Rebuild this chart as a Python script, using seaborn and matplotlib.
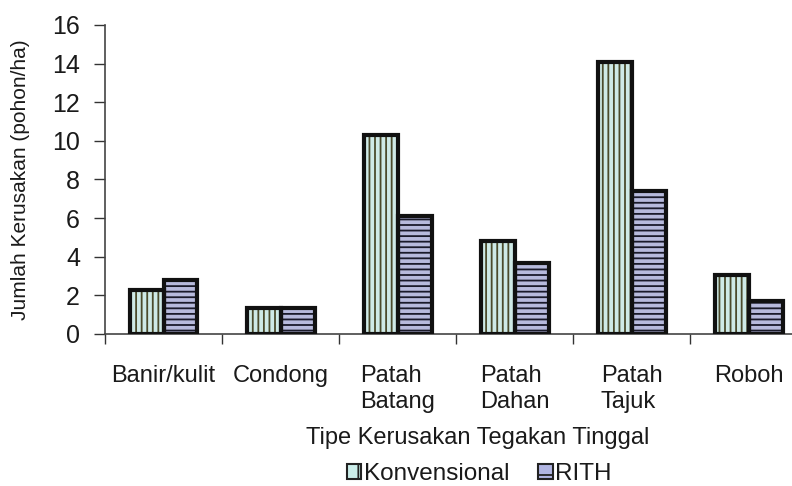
import matplotlib
matplotlib.use("Agg")
import matplotlib.pyplot as plt
from matplotlib.patches import Rectangle, Patch
from matplotlib.ticker import FixedLocator
import seaborn as sns
import pandas as pd

# Damage counts per damage type for the two logging systems
categories = ["Banir/kulit", "Condong", "Patah\nBatang", "Patah\nDahan", "Patah\nTajuk", "Roboh"]
konvensional = [2.3, 1.35, 10.3, 4.8, 14.1, 3.05]
rith = [2.8, 1.35, 6.1, 3.7, 7.4, 1.7]
series = ["Konvensional", "RITH"]
y_ticks = [0, 2, 4, 6, 8, 10, 12, 14, 16]

fill_colors = {"Konvensional": "#cbeeea", "RITH": "#b1b5e2"}
hatch_colors = {"Konvensional": "#4b4b2c", "RITH": "#1a1a2a"}
hatches = {"Konvensional": "|||", "RITH": "---"}

df = pd.DataFrame({
    "Tipe": categories * 2,
    "Seri": [series[0]] * len(categories) + [series[1]] * len(categories),
    "Jumlah": konvensional + rith,
})

sns.set_theme(style="white")
plt.rcParams["font.family"] = ["Liberation Sans", "DejaVu Sans"]
plt.rcParams["hatch.linewidth"] = 1.3

fig = plt.figure(figsize=(7.92, 4.86), dpi=100)
ax = fig.add_axes([0.1326, 0.3128, 0.8800, 0.6358])

sns.barplot(data=df, x="Tipe", y="Jumlah", hue="Seri", order=categories,
            hue_order=series, palette=fill_colors, width=0.58, gap=0,
            linewidth=0, ax=ax, legend=False)

# Hatch each series and outline every bar in black
for container, name in zip(ax.containers, series):
    for bar in container:
        bar.set_hatch(hatches[name])
        bar.set_edgecolor(hatch_colors[name])
        bar.set_linewidth(0)
        ax.add_patch(Rectangle((bar.get_x(), bar.get_y()), bar.get_width(),
                               bar.get_height(), fill=False,
                               edgecolor="#111111", linewidth=3.0, zorder=3))

ax.set_xlim(-0.5, len(categories) - 0.5 - 0.045)
ax.set_ylim(0, 16)
ax.set_yticks(y_ticks)
ax.tick_params(axis="y", labelsize=18, length=8, width=1, color="#333333",
               direction="out", left=True, pad=10, labelcolor="#1a1a1a")

# Category labels at centers, tick marks at category boundaries
ax.set_xticks(range(len(categories)))
ax.set_xticklabels(categories, multialignment="left", linespacing=1.25)
ax.tick_params(axis="x", which="major", length=0, labelsize=17, pad=22,
               labelcolor="#1a1a1a")
ax.xaxis.set_minor_locator(FixedLocator([i - 0.5 for i in range(len(categories) + 1)]))
ax.tick_params(axis="x", which="minor", length=7, width=1, color="#333333",
               direction="out", bottom=True)
for lbl in ax.get_xticklabels():
    lbl.set_verticalalignment("top")

for side in ["top", "right"]:
    ax.spines[side].set_visible(False)
for side in ["left", "bottom"]:
    ax.spines[side].set_color("#444444")
    ax.spines[side].set_linewidth(1.2)

ax.set_xlabel("Tipe Kerusakan Tegakan Tinggal", fontsize=17, color="#1a1a1a")
ax.xaxis.set_label_coords(0.535, -0.30)
ax.xaxis.label.set_verticalalignment("top")
ax.set_ylabel("Jumlah Kerusakan (pohon/ha)", fontsize=15, color="#1a1a1a")
ax.yaxis.set_label_coords(-0.108, 0.5)

handles = [Patch(facecolor=fill_colors[s], edgecolor="#222222",
                 hatch="|" if s == series[0] else "-", linewidth=1.5) for s in series]
fig.legend(handles, series, loc="center", bbox_to_anchor=(0.605, 0.025),
           ncol=2, frameon=False, fontsize=17.5, handlelength=0.6,
           handleheight=0.6, handletextpad=0.1, columnspacing=1.2,
           labelcolor="#1a1a1a")

fig.savefig("out.png", dpi=100, facecolor="white")
